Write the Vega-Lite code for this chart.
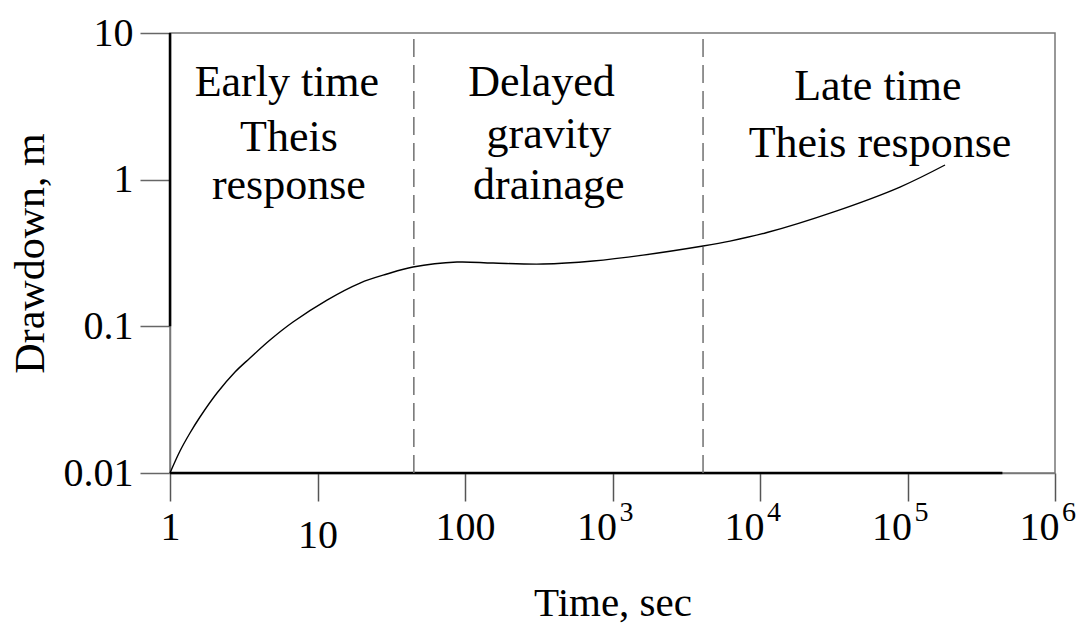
{
  "$schema": "https://vega.github.io/schema/vega-lite/v6.json",
  "width": 885,
  "height": 440,
  "autosize": {"type": "none"},
  "padding": {"left": 170, "top": 33, "right": 28, "bottom": 152},
  "background": "white",
  "config": {
    "font": "Liberation Serif",
    "view": {"stroke": "#777777", "strokeWidth": 1.5},
    "axis": {"grid": false}
  },
  "datasets": {
    "curve": [
      {"t": 1, "s": 0.01},
      {"t": 1.169, "s": 0.01413},
      {"t": 1.366, "s": 0.01874},
      {"t": 1.597, "s": 0.02409},
      {"t": 2.083, "s": 0.0351},
      {"t": 2.759, "s": 0.04881},
      {"t": 3.486, "s": 0.06081},
      {"t": 4.764, "s": 0.08065},
      {"t": 6.823, "s": 0.107},
      {"t": 11.6, "s": 0.1511},
      {"t": 19.42, "s": 0.1973},
      {"t": 29.59, "s": 0.2273},
      {"t": 44.42, "s": 0.2537},
      {"t": 88.3, "s": 0.2744},
      {"t": 155, "s": 0.27},
      {"t": 338, "s": 0.266},
      {"t": 738, "s": 0.279},
      {"t": 1610, "s": 0.306},
      {"t": 4110, "s": 0.353},
      {"t": 6260, "s": 0.381},
      {"t": 11150, "s": 0.436},
      {"t": 31300, "s": 0.601},
      {"t": 88900, "s": 0.891},
      {"t": 179600, "s": 1.259}
    ],
    "frame": [
      {"x": 1, "x2": 1, "y": 0.1, "y2": 10},
      {"x": 1, "x2": 440000, "y": 0.01, "y2": 0.01}
    ],
    "dividers": [{"t": 45}, {"t": 4110}],
    "labels": [
      {"t": 6.2, "s": 3.715, "label": "Early time"},
      {"t": 6.4, "s": 1.567, "label": "Theis"},
      {"t": 6.4, "s": 0.738, "label": "response"},
      {"t": 330, "s": 3.715, "label": "Delayed"},
      {"t": 370, "s": 1.642, "label": "gravity"},
      {"t": 370, "s": 0.738, "label": "drainage"},
      {"t": 63000, "s": 3.49, "label": "Late time"},
      {"t": 65100, "s": 1.426, "label": "Theis response"}
    ],
    "exponents": [
      {"t": 1000, "e": "3"},
      {"t": 10000, "e": "4"},
      {"t": 100000, "e": "5"},
      {"t": 1000000, "e": "6"}
    ]
  },
  "layer": [
    {
      "data": {"name": "frame"},
      "mark": {"type": "rule", "color": "black", "strokeWidth": 2.5},
      "encoding": {
        "x": {"field": "x", "type": "quantitative", "scale": {"type": "log", "domain": [1, 1000000], "nice": false}},
        "x2": {"field": "x2"},
        "y": {"field": "y", "type": "quantitative", "scale": {"type": "log", "domain": [0.01, 10], "nice": false}},
        "y2": {"field": "y2"}
      }
    },
    {
      "data": {"name": "dividers"},
      "mark": {"type": "rule", "color": "#707070", "strokeWidth": 1.5, "strokeDash": [18, 8]},
      "encoding": {
        "x": {"field": "t", "type": "quantitative"},
        "y": {"datum": 0.01},
        "y2": {"datum": 10}
      }
    },
    {
      "data": {"name": "curve"},
      "mark": {"type": "line", "color": "black", "strokeWidth": 1.4, "interpolate": "catmull-rom"},
      "encoding": {
        "x": {
          "field": "t", "type": "quantitative",
          "axis": {
            "values": [1, 10, 100, 1000, 10000, 100000, 1000000],
            "labelExpr": "datum.value >= 1000 ? '10' : format(datum.value, 'd')",
            "tickSize": 28, "tickColor": "#555555", "tickWidth": 1.5,
            "domainColor": "#777777", "domainWidth": 1.5,
            "labelFontSize": 40, "labelColor": "black", "labelBaseline": "top",
            "labelPadding": {"condition": {"test": "datum.value == 10", "value": 14}, "value": 6},
            "labelOffset": {"condition": {"test": "datum.value >= 1000", "value": -16}, "value": 0},
            "labelFlush": false, "labelOverlap": false, "labelBound": false,
            "title": "Time, sec", "titleFontSize": 41, "titleFontWeight": "normal", "titleColor": "black",
            "titleY": 142, "titleBaseline": "alphabetic"
          }
        },
        "y": {
          "field": "s", "type": "quantitative",
          "axis": {
            "values": [0.01, 0.1, 1, 10],
            "labelExpr": "datum.value == 0.01 ? '0.01' : datum.value == 0.1 ? '0.1' : datum.value == 1 ? '1' : '10'",
            "tickSize": 30, "tickColor": "#666666", "tickWidth": 1.5,
            "domainColor": "#777777", "domainWidth": 1.5,
            "labelFontSize": 40, "labelColor": "black", "labelBaseline": "middle", "labelPadding": 7,
            "labelFlush": false, "labelOverlap": false, "labelBound": false,
            "title": "Drawdown, m", "titleFontSize": 42, "titleFontWeight": "normal", "titleColor": "black",
            "titleX": -127, "titleBaseline": "alphabetic"
          }
        }
      }
    },
    {
      "data": {"name": "labels"},
      "mark": {"type": "text", "fontSize": 44, "align": "center", "baseline": "alphabetic", "color": "black"},
      "encoding": {
        "x": {"field": "t", "type": "quantitative"},
        "y": {"field": "s", "type": "quantitative"},
        "text": {"field": "label"}
      }
    },
    {
      "data": {"name": "exponents"},
      "mark": {"type": "text", "fontSize": 28, "align": "left", "baseline": "alphabetic", "dx": 7, "dy": 48, "color": "black"},
      "encoding": {
        "x": {"field": "t", "type": "quantitative"},
        "y": {"datum": 0.01},
        "text": {"field": "e"}
      }
    }
  ]
}
